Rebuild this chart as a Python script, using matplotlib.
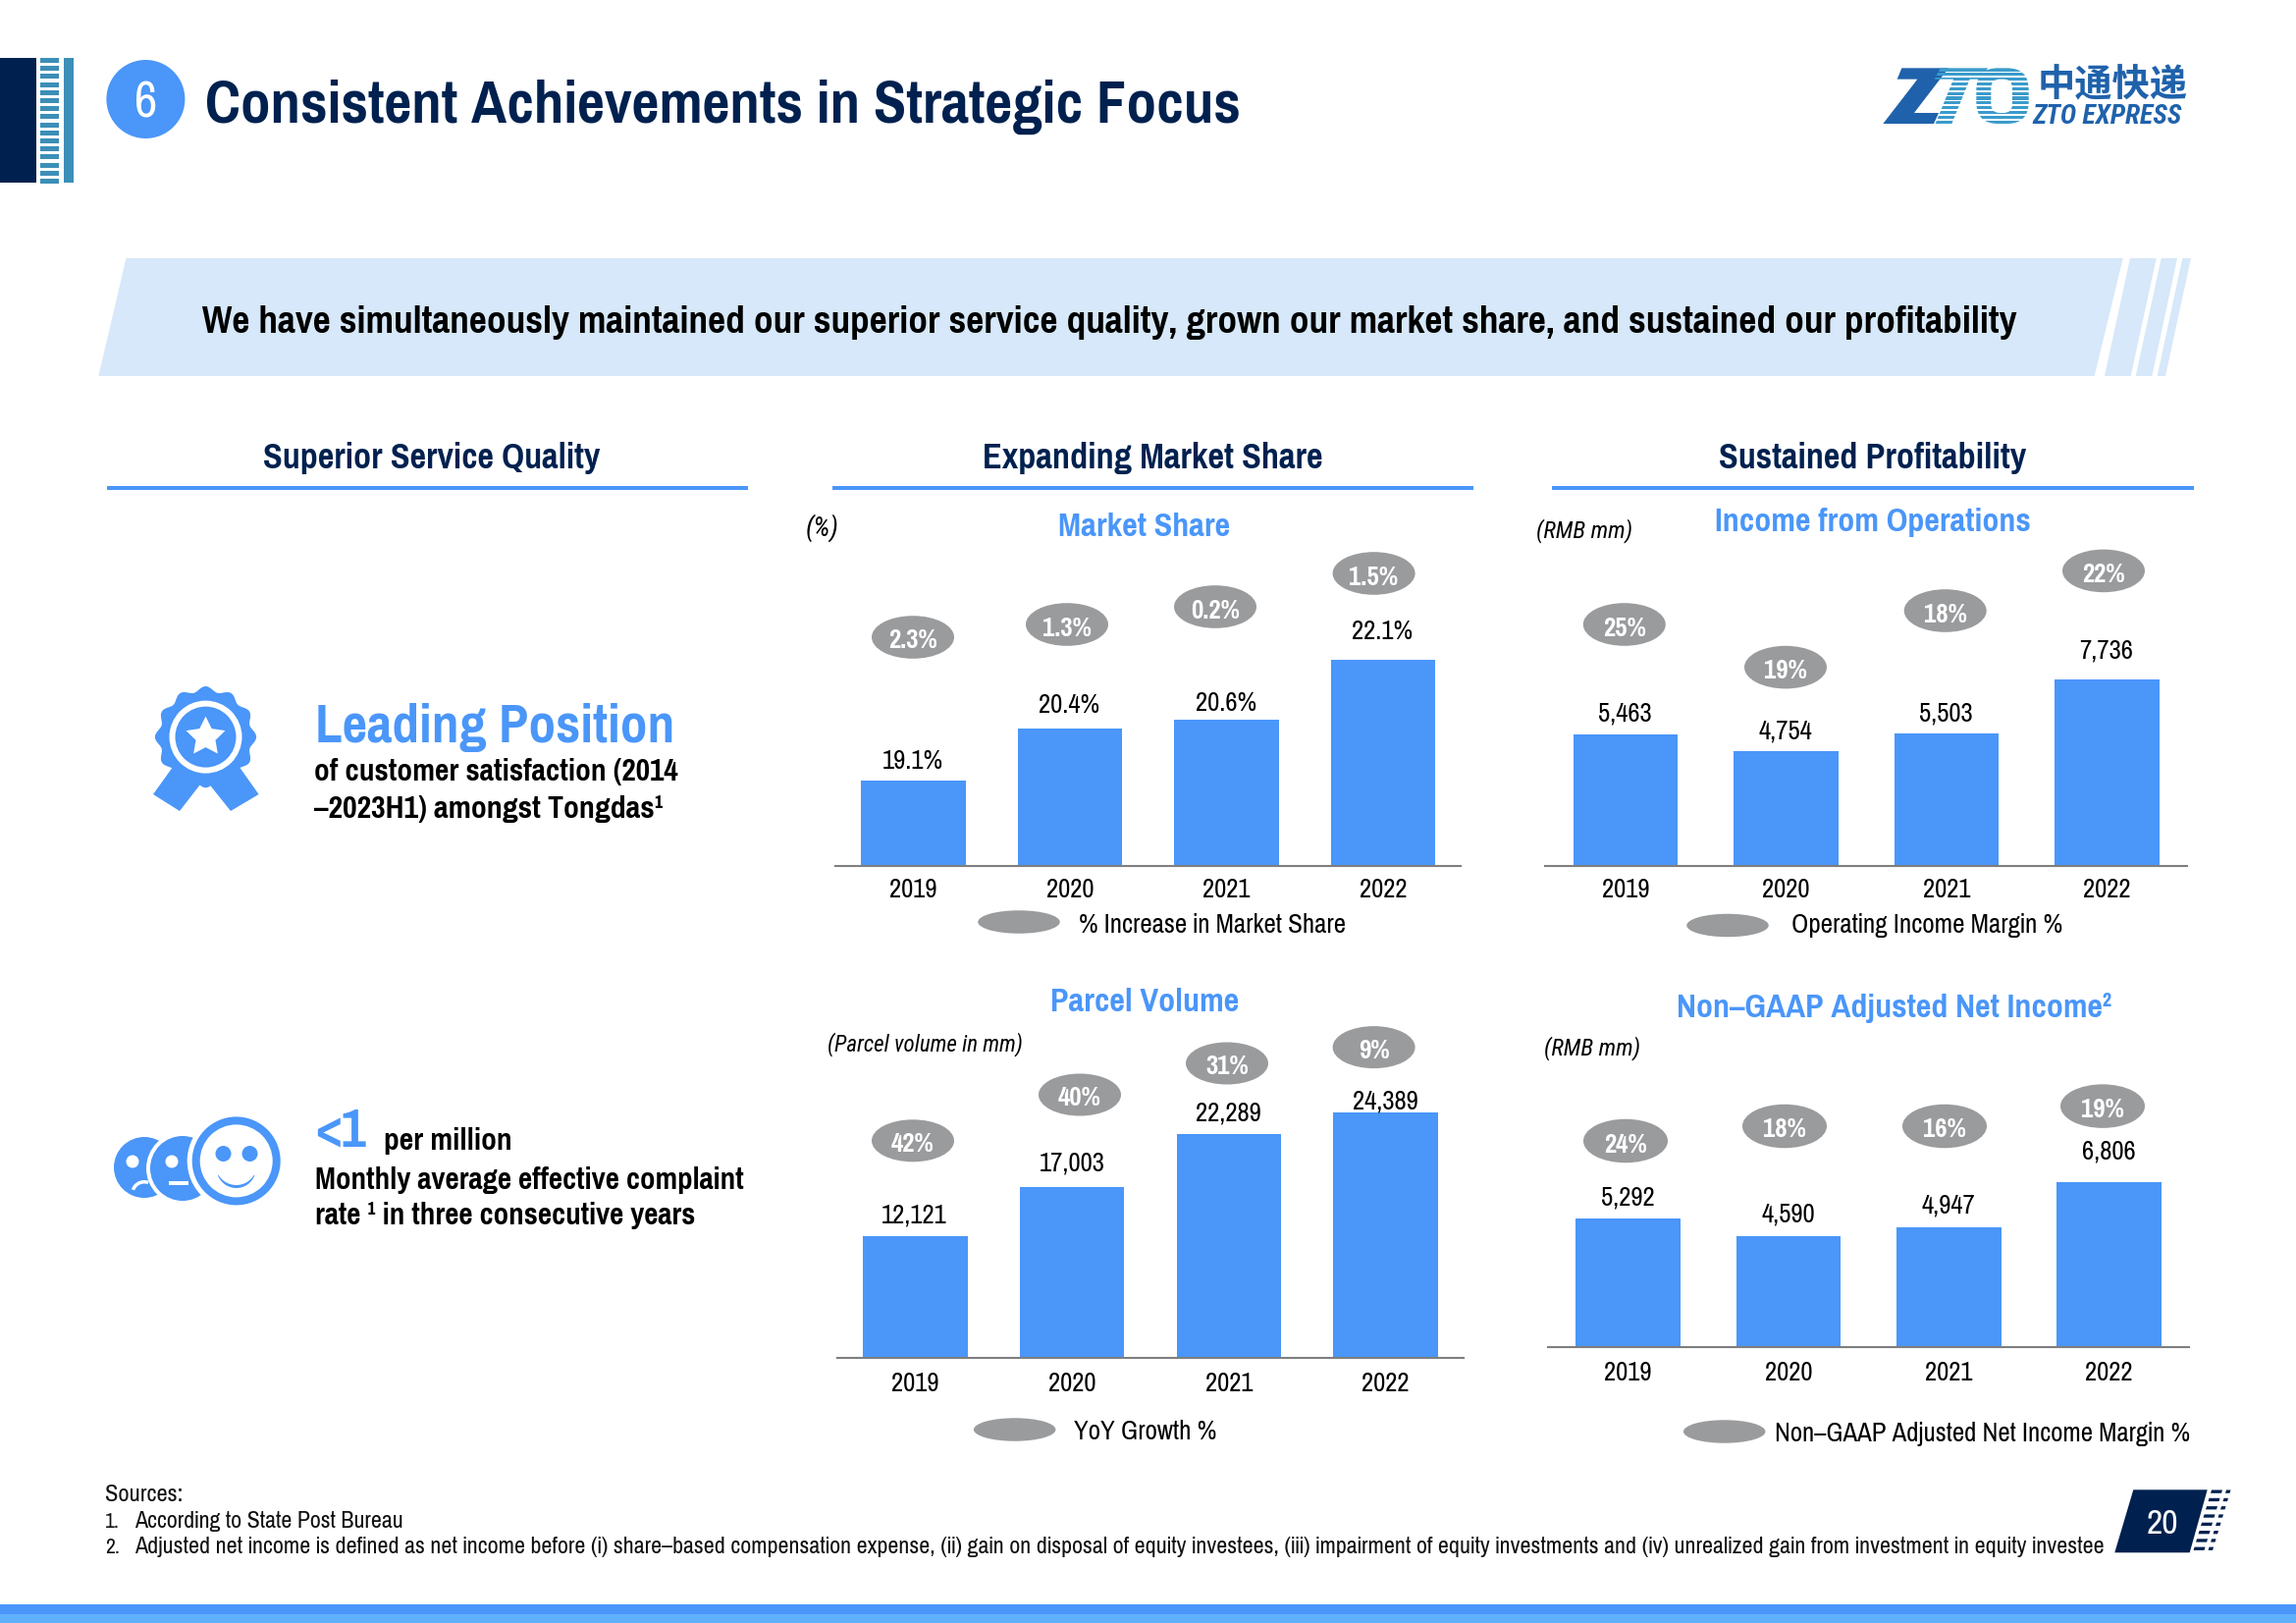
import numpy as np
import matplotlib
matplotlib.use('Agg')
import matplotlib.pyplot as plt
from matplotlib.patches import Polygon, Circle, Ellipse, Rectangle, FancyBboxPatch, Wedge

# ---------- data ----------
years = ['2019', '2020', '2021', '2022']
market_share = [19.1, 20.4, 20.6, 22.1]
market_share_labels = ['19.1%', '20.4%', '20.6%', '22.1%']
market_share_increase = ['2.3%', '1.3%', '0.2%', '1.5%']
income_ops = [5463, 4754, 5503, 7736]
income_margin = ['25%', '19%', '18%', '22%']
parcel_volume = [12121, 17003, 22289, 24389]
parcel_growth = ['42%', '40%', '31%', '9%']
adj_net_income = [5292, 4590, 4947, 6806]
adj_margin = ['24%', '18%', '16%', '19%']

W, H = 2339, 1653
BLUE = '#4a96f9'
NAVY = '#00214f'
GREY = '#9a9b9d'
PALE = '#d6e8f9'
FONT = ['Pragati Narrow', 'Roboto Condensed', 'DejaVu Sans']
plt.rcParams['font.family'] = FONT
NUM = 21

fig = plt.figure(figsize=(W / 100, H / 100), dpi=100, facecolor='white')
ov = fig.add_axes([0, 0, 1, 1], zorder=5)
ov.set_xlim(0, W); ov.set_ylim(H, 0); ov.axis('off'); ov.patch.set_alpha(0)
renderer = fig.canvas.get_renderer()


def T(x, y, s, size=NUM, width=None, color='black', weight='normal', ha='center', style='normal', va='center', family=None):
    t = ov.text(x, y + 1.5, s, fontsize=size, color=color, weight=weight, ha=ha, va=va, style=style, zorder=10)
    if family:
        t.set_family(family)
    if width:
        w = t.get_window_extent(renderer).width
        t.set_fontsize(size * width / w)
    return t


def poly(pts, color, z=2, **kw):
    p = Polygon(pts, closed=True, facecolor=color, edgecolor='none', zorder=z, **kw)
    ov.add_patch(p)
    return p


# ---------- page decoration ----------
ov.add_patch(Rectangle((0, 59), 37, 127, fc=NAVY, ec='none'))
ov.add_patch(Rectangle((65, 59), 10, 127, fc='#3b8fb8', ec='none'))
for yy in np.arange(59, 184, 8.2):
    ov.add_patch(Rectangle((41, yy), 19, 5, fc='#3b8fb8', ec='none'))
ov.add_patch(Circle((148.4, 101), 40, fc=BLUE, ec='none'))
T(148.4, 103, '6', size=40, color='white')
T(209, 107.5, 'Consistent Achievements in Strategic Focus', size=47, width=1056, color=NAVY, weight='bold', ha='left')

# banner
poly([(128.5, 263), (2162.7, 263), (2133.7, 383), (100.3, 383)], PALE)
poly([(2170, 263), (2196.7, 263), (2170.7, 383), (2144, 383)], PALE)
poly([(2201.7, 263), (2218, 263), (2192.3, 383), (2175.7, 383)], PALE)
poly([(2223.3, 263), (2232, 263), (2206, 383), (2197.7, 383)], PALE)
T(205.6, 327.5, 'We have simultaneously maintained our superior service quality, grown our market share, and sustained our profitability',
  size=27, width=1848, weight='bold', ha='left')

# section headers
for x0, x1, tx, s, w in [(109, 762, 440, 'Superior Service Quality', 343),
                         (848, 1501, 1174, 'Expanding Market Share', 347),
                         (1581, 2235, 1908, 'Sustained Profitability', 312)]:
    ov.add_patch(Rectangle((x0, 494.7), x1 - x0, 4.6, fc=BLUE, ec='none'))
    T(tx, 465, s, size=26, width=w, color=NAVY, weight='bold')

# bottom band
ov.add_patch(Rectangle((0, 1634), W, 10, fc=BLUE, ec='none'))
ov.add_patch(Rectangle((0, 1644), W, 9, fc='#5fb0fb', ec='none'))

# footer
T(107, 1521, 'Sources:', size=17, width=79, ha='left', color='#111111')
T(107, 1548, '1.', size=17, ha='left', color='#111111')
T(137, 1548, 'According to State Post Bureau', size=17, width=274, ha='left', color='#111111')
T(107, 1574, '2.', size=17, ha='left', color='#111111')
T(137, 1574, 'Adjusted net income is defined as net income before (i) share–based compensation expense, (ii) gain on disposal of equity investees, '
  '(iii) impairment of equity investments and (iv) unrealized gain from investment in equity investee',
  size=17, width=2005, ha='left', color='#111111')
poly([(2173.3, 1517.3), (2248.7, 1517.3), (2230.7, 1581.3), (2154.3, 1581.3)], NAVY)
T(2203.3, 1550.5, '20', size=28, color='white')
for i in range(8):
    yy = 1517.5 + i * 8.3
    dx = (yy - 1517.5) * 0.3
    poly([(2253 - dx, yy), (2264 - dx, yy), (2263 - dx, yy + 3.3), (2252 - dx, yy + 3.3)], NAVY)
    poly([(2268 - dx, yy), (2272.5 - dx, yy), (2271.5 - dx, yy + 3.3), (2267 - dx, yy + 3.3)], NAVY)

# logo
lx = lambda z: 1850 + z / 3
ly = lambda z: 30 + z / 3
L = lambda pts: [(lx(a), ly(b)) for a, b in pts]
LOGO = '#1f62ab'
LOGO2 = '#3a9bcb'
poly(L([(262, 118), (405, 118), (300, 255), (375, 255), (360, 288), (205, 288), (310, 152), (248, 152)]), LOGO)
shapeT = poly(L([(380, 118), (525, 118), (505, 152), (470, 152), (415, 288), (365, 288), (420, 152), (362, 152)]), 'none')
shapeO = FancyBboxPatch((lx(490), ly(118)), 160 / 3, 170 / 3, boxstyle='round,pad=0,rounding_size=22', fc='none', ec='none')
ov.add_patch(shapeO)
for zy in np.arange(118, 288, 14.5):
    r = Rectangle((lx(360), ly(zy)), 300 / 3, 3.2, fc=LOGO2, ec='none', zorder=3)
    ov.add_patch(r); r.set_clip_path(shapeT)
    r2 = Rectangle((lx(360), ly(zy)), 300 / 3, 3.2, fc=LOGO2, ec='none', zorder=3)
    ov.add_patch(r2); r2.set_clip_path(shapeO)
ov.add_patch(FancyBboxPatch((lx(535), ly(152)), 65 / 3, 103 / 3, boxstyle='round,pad=0,rounding_size=9', fc='white', ec='none', zorder=4))
cjk = ov.text(lx(905), ly(170), '中通快递', fontsize=27, color=LOGO, weight='bold', ha='center', va='center',
              family=['Noto Sans CJK SC', 'DejaVu Sans'], zorder=5)
cjk.set_fontsize(27 * 153 / cjk.get_window_extent(renderer).width)
ze = ov.text(lx(890), ly(266), 'ZTO EXPRESS', fontsize=15, color=LOGO, weight='bold', style='italic', ha='center', va='center',
             family=['Roboto Condensed', 'DejaVu Sans'], zorder=5)
ze.set_fontsize(15 * 153 / ze.get_window_extent(renderer).width)

# left texts
T(321, 739, 'Leading Position', size=42, width=366, color=BLUE, weight='bold', ha='left')
T(320, 785, 'of customer satisfaction (2014', size=22, width=370, weight='bold', ha='left')
T(320, 822, '–2023H1) amongst Tongdas¹', size=22, width=356, weight='bold', ha='left')
T(321, 1151, '<1', size=40, width=52, color=BLUE, weight='bold', ha='left')
T(391, 1161, 'per million', size=22, width=130, weight='bold', ha='left')
T(321, 1201, 'Monthly average effective complaint', size=22, width=435, weight='bold', ha='left')
T(321, 1237, 'rate ¹ in three consecutive years', size=22, width=385, weight='bold', ha='left')

# medal icon
cx, cy = 209.5, 750.6
poly([(156, 809), (183, 826), (208.6, 793), (235, 826), (263.6, 809), (236, 770), (184, 770)], BLUE)
theta = np.linspace(0, 2 * np.pi, 361)
rad = 49 + 2.6 * np.cos(12 * theta)
poly(np.c_[cx + rad * np.sin(theta), cy - rad * np.cos(theta)], BLUE, z=3)
ov.add_patch(Circle((cx, cy), 37, fc='white', ec='none', zorder=4))
ov.add_patch(Circle((cx, cy), 31, fc=BLUE, ec='none', zorder=4))
ang = np.arange(10) * np.pi / 5
rs = np.where(np.arange(10) % 2 == 0, 21, 10.5)
poly(np.c_[cx + rs * np.sin(ang), cy - rs * np.cos(ang)], 'white', z=5)

# smiley icon
ov.add_patch(Circle((147, 1189), 31, fc=BLUE, ec='none', zorder=2))
ov.add_patch(Circle((186, 1190), 37, fc='white', ec='none', zorder=3))
ov.add_patch(Circle((186, 1190), 33, fc=BLUE, ec='none', zorder=3))
ov.add_patch(Circle((240.7, 1182.4), 50, fc='white', ec='none', zorder=4))
ov.add_patch(Circle((240.7, 1182.4), 45, fc=BLUE, ec='none', zorder=4))
ov.add_patch(Circle((240.7, 1182.4), 37, fc='white', ec='none', zorder=4))
for ex in (227.5, 254.5):
    ov.add_patch(Circle((ex, 1175), 8, fc=BLUE, ec='none', zorder=5))
ov.add_patch(Wedge((240.7, 1190), 20, 20, 160, fc=BLUE, ec='none', zorder=5))
ov.add_patch(Wedge((240.7, 1186), 21, 20, 160, fc='white', ec='none', zorder=5))
for ex in (135, 175):
    ov.add_patch(Circle((ex, 1183), 6.5, fc='white', ec='none', zorder=5))
ov.add_patch(Wedge((147, 1216), 14, 200, 290, width=3.5, fc='white', ec='none', zorder=3))
ov.add_patch(Rectangle((172, 1203), 20, 3.5, fc='white', ec='none', zorder=3))

# ---------- charts ----------
panels = [
    dict(values=market_share, labels=market_share_labels, pills=market_share_increase, base=17.0, ppu=41.2,
         cx=[930.4, 1090, 1249, 1409], base_y=881.8, axis=(850.5, 1488), pad=9,
         lab=[(930, 773.6), (1089, 717.5), (1248.6, 715), (1408, 642)],
         pill=[(930, 649), (1087, 636), (1238, 618), (1399.6, 584)], pw=84, ph=43.6,
         title=('Market Share', 1166, 535.5, 175), unit=('(%)', 837.6, 536, 34),
         legend=((1038, 939), '% Increase in Market Share', 1099.4, 940.7, 272)),
    dict(values=income_ops, labels=[f'{v:,}' for v in income_ops], pills=income_margin, base=0, ppu=0.02453,
         cx=[1656, 1819.4, 1982.5, 2146.3], base_y=881.8, axis=(1574, 2228), pad=9,
         lab=[(1655.7, 726), (1818.7, 743.6), (1982.6, 725), (2146, 661)],
         pill=[(1654.8, 636), (1819, 679.6), (1981.7, 622), (2143, 581.4)], pw=84, ph=43.6,
         title=('Income from Operations', 1908, 530.5, 322), unit=('(RMB mm)', 1614, 539, 98),
         legend=((1760, 942.5), 'Operating Income Margin %', 1824.7, 941.4, 276)),
    dict(values=parcel_volume, labels=[f'{v:,}' for v in parcel_volume], pills=parcel_growth, base=0, ppu=0.01025,
         cx=[932.5, 1092, 1252, 1411.4], base_y=1383, axis=(852.8, 1491), pad=10,
         lab=[(931.3, 1236.7), (1092.5, 1184), (1251.8, 1132.6), (1411.6, 1120.6)],
         pill=[(930, 1161.8), (1100, 1115), (1250, 1083), (1399.6, 1066.6)], pw=84, ph=43,
         title=('Parcel Volume', 1166.4, 1019, 192), unit=('(Parcel volume in mm)', 942, 1062, 199),
         legend=((1033.7, 1456), 'YoY Growth %', 1093.8, 1457.5, 145)),
    dict(values=adj_net_income, labels=[f'{v:,}' for v in adj_net_income], pills=adj_margin, base=0, ppu=0.02465,
         cx=[1658.7, 1821.8, 1985, 2148.6], base_y=1371.7, axis=(1577, 2230), pad=10,
         lab=[(1658, 1218.8), (1821.4, 1235.4), (1984.4, 1226.8), (2148, 1171.7)],
         pill=[(1656, 1162), (1818, 1147), (1981, 1147), (2142, 1126.6)], pw=86, ph=44.5,
         title=('Non–GAAP Adjusted Net Income²', 1930, 1025.5, 443), unit=('(RMB mm)', 1621.7, 1066, 98),
         legend=((1756.7, 1458), 'Non–GAAP Adjusted Net Income Margin %', 1808, 1459, 423)),
]

for P in panels:
    x0, x1 = P['axis']
    top_y = P['base_y'] - 300
    ax = fig.add_axes([x0 / W, 1 - P['base_y'] / H, (x1 - x0) / W, (P['base_y'] - top_y) / H], zorder=1)
    ax.patch.set_alpha(0)
    c = P['cx']
    s = (c[-1] - c[0]) / 3
    ax.set_xlim((x0 - c[0]) / s, (x1 - c[0]) / s)
    ax.set_ylim(P['base'], P['base'] + 300 / P['ppu'])
    ax.bar(range(4), P['values'], width=106.5 / s, color=BLUE, bottom=0, zorder=2)
    for k in ('top', 'left', 'right'):
        ax.spines[k].set_visible(False)
    ax.spines['bottom'].set_color('#7f7f7f')
    ax.spines['bottom'].set_linewidth(1.5)
    ax.spines['bottom'].set_zorder(3)
    ax.set_yticks([])
    ax.set_xticks(range(4), years)
    ax.tick_params(axis='x', length=0, pad=P['pad'], labelsize=NUM)
    for (lxx, lyy), s_ in zip(P['lab'], P['labels']):
        T(lxx, lyy, s_)
    for (px, py), s_ in zip(P['pill'], P['pills']):
        ov.add_patch(Ellipse((px, py), P['pw'], P['ph'], fc=GREY, ec='none', zorder=6))
        T(px, py + 2.5, s_, color='white', weight='bold')
    tt, tx, ty, tw = P['title']
    T(tx, ty, tt, size=25, width=tw, color=BLUE, weight='bold')
    ut, ux, uy, uw = P['unit']
    T(ux, uy, ut, size=17, width=uw, style='italic', family=['Roboto Condensed', 'DejaVu Sans'])
    (ex, ey), lt, ltx, lty, ltw = P['legend']
    ov.add_patch(Ellipse((ex, ey), 83.5, 23.5, fc=GREY, ec='none', zorder=6))
    T(ltx, lty, lt, width=ltw, ha='left')

fig.savefig('out.png', dpi=100, facecolor='white')
